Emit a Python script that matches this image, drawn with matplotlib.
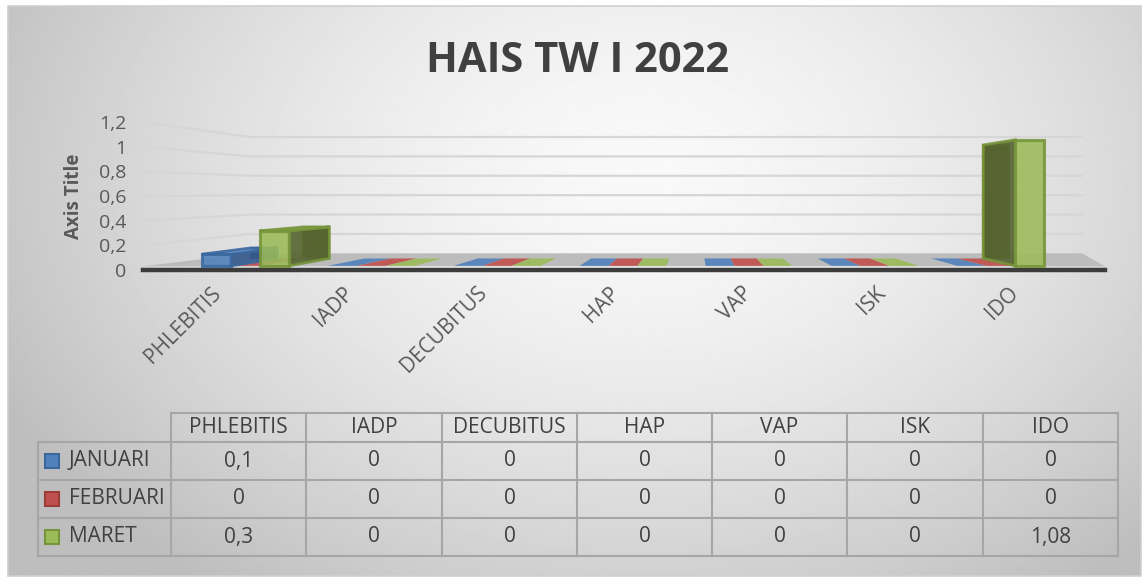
import numpy as np
import matplotlib.pyplot as plt
import matplotlib.transforms as mtransforms
from matplotlib.patches import Polygon, Rectangle

plt.rcParams['font.family'] = ['Open Sans', 'DejaVu Sans']

# data
categories = ['PHLEBITIS', 'IADP', 'DECUBITUS', 'HAP', 'VAP', 'ISK', 'IDO']
series_names = ['JANUARI', 'FEBRUARI', 'MARET']
januari = [0.1, 0, 0, 0, 0, 0, 0]
februari = [0, 0, 0, 0, 0, 0, 0]
maret = [0.3, 0, 0, 0, 0, 0, 1.08]
y_ticks = [0, 0.2, 0.4, 0.6, 0.8, 1.0, 1.2]

values = [januari, februari, maret]
face_colors = ['#4f81bd', '#c0504d', '#9bbb59']
edge_colors = ['#3b679e', '#9c3b38', '#76943a']
side_colors = ['#35588a', '#843432', '#55632f']
top_colors = ['#6f97cc', '#d06e6b', '#b0cc78']


def fmt(v):
    return ('%g' % v).replace('.', ',')


W, H = 1145, 580
fig = plt.figure(figsize=(W / 100, H / 100), dpi=100)

# background with soft radial gradient
bg = fig.add_axes([0, 0, 1, 1])
bg.set_xlim(0, W)
bg.set_ylim(H, 0)
bg.axis('off')
yy, xx = np.mgrid[0:H, 0:W]
r = np.hypot((xx - 640) / 720.0, (yy - 170) / 520.0)
shade = 0.975 - 0.23 * np.clip(r, 0, 1) ** 1.6
bg.imshow(shade, cmap='gray', vmin=0, vmax=1, extent=(8, 1141, 576, 6),
          aspect='auto', zorder=0)
bg.add_patch(Rectangle((8, 6), 1133, 570, fill=False, ec='#d0d0d0', lw=1.2, zorder=1))

# chart area: one data unit = one category horizontally, value vertically
ax = fig.add_axes([143 / W, (H - 270) / H, 962 / W, 170 / H])
ax.set_facecolor('none')
x_lo, x_hi = (143 - 220) / 133.0, (1105 - 220) / 133.0
ax.set_xlim(x_lo, x_hi)
ax.set_ylim(0, 170 / 123.3)

VP = (3.57, 0.633)          # vanishing point of the fake perspective
S_FRONT, S_BACK, S_WALL = 0.947, 0.852, 0.786
BAR_W = 0.23
x_back_left = (250 - 220) / 133.0
x_back_right = (1082 - 220) / 133.0


def proj(x, y, s):
    return (VP[0] + s * (x - VP[0]), VP[1] + s * (y - VP[1]))


# floor
fl_y = proj(x_lo, 0, S_WALL)[1]
floor = Polygon([(x_lo, 0.03), (x_hi, 0.03), (x_back_right, fl_y), (x_back_left, fl_y)],
                closed=True, fc='#bcbcbc', ec='none', zorder=1, clip_on=False)
ax.add_patch(floor)

# gridlines: side wall + back wall
for t in y_ticks[1:]:
    p = proj(x_lo, t, S_WALL)
    ax.plot([x_lo, x_back_left, x_back_right], [t, p[1], p[1]], color='#d6d6d6',
            lw=1.6, zorder=0.5, clip_on=False)

# bars
for j in range(3):
    for i, v in enumerate(values[j]):
        x0 = i + (j - 1) * BAR_W - BAR_W / 2
        x1 = x0 + BAR_W
        f = [proj(x0, 0, S_FRONT), proj(x1, 0, S_FRONT), proj(x1, v, S_FRONT), proj(x0, v, S_FRONT)]
        b = [proj(x0, 0, S_BACK), proj(x1, 0, S_BACK), proj(x1, v, S_BACK), proj(x0, v, S_BACK)]
        if v == 0:
            ax.add_patch(Polygon([f[0], f[1], b[1], b[0]], closed=True,
                                 fc=face_colors[j], ec='none', alpha=0.9, zorder=3))
            continue
        z = 4 + j
        ax.add_patch(Polygon(b, closed=True, fc=side_colors[j], ec=edge_colors[j],
                             lw=1.5, alpha=0.85, zorder=z))
        if x1 < VP[0]:
            side = [f[1], b[1], b[2], f[2]]
        else:
            side = [f[0], b[0], b[3], f[3]]
        ax.add_patch(Polygon(side, closed=True, fc=side_colors[j], ec=edge_colors[j],
                             lw=2, alpha=0.9, zorder=z + 0.1))
        if v < VP[1]:
            ax.add_patch(Polygon([f[3], f[2], b[2], b[3]], closed=True, fc=top_colors[j],
                                 ec=edge_colors[j], lw=2, alpha=0.9, zorder=z + 0.2))
        ax.add_patch(Polygon(f, closed=True, fc=face_colors[j], ec=edge_colors[j],
                             lw=2.2, alpha=0.88, zorder=z + 0.3))

for s in ['top', 'right', 'left']:
    ax.spines[s].set_visible(False)
ax.spines['bottom'].set_color('#3c3c3c')
ax.spines['bottom'].set_linewidth(3.2)
ax.spines['bottom'].set_zorder(2)

ax.set_yticks(y_ticks)
ax.set_yticklabels([fmt(t) for t in y_ticks], fontsize=14, color='#595959')
ax.set_xticks(range(len(categories)))
ax.set_xticklabels(categories, rotation=45, ha='right', va='top',
                   rotation_mode='anchor', fontsize=15, color='#595959')
ax.tick_params(axis='both', length=0)
ax.tick_params(axis='y', pad=12)
ax.tick_params(axis='x', pad=9)
# nudge rotated labels a little to the left, as in the original
shift = mtransforms.ScaledTranslation(-10 / 100, 0, fig.dpi_scale_trans)
for lbl in ax.get_xticklabels():
    lbl.set_transform(lbl.get_transform() + shift)
ax.set_ylabel('Axis Title', fontsize=13.5, fontweight='bold', color='#595959')
ax.yaxis.set_label_coords((84 - 143) / 962.0, (270 - 196) / 170.0)

fig.text(578 / W, 1 - 62 / H, 'HAIS TW I 2022', ha='center', va='center',
         fontsize=30, fontweight='bold', color='#404040')

# data table under the chart
col_edges = [171, 306, 442, 577, 712, 847, 983, 1118]
row_edges = [413, 442, 480, 518, 556]
tbl_left = 38
line_kw = dict(color='#a6a6a6', lw=1.5, zorder=2)
bg.plot([col_edges[0], col_edges[-1]], [row_edges[0], row_edges[0]], **line_kw)
for yv in row_edges[1:]:
    bg.plot([tbl_left, col_edges[-1]], [yv, yv], **line_kw)
bg.plot([tbl_left, tbl_left], [row_edges[1], row_edges[-1]], **line_kw)
for xv in col_edges:
    bg.plot([xv, xv], [row_edges[0], row_edges[-1]], **line_kw)

txt_kw = dict(fontsize=15, color='#404040', va='center', zorder=3)
for k, name in enumerate(categories):
    cx = (col_edges[k] + col_edges[k + 1]) / 2
    bg.text(cx, (row_edges[0] + row_edges[1]) / 2, name, ha='center', **txt_kw)
for j, name in enumerate(series_names):
    cy = (row_edges[j + 1] + row_edges[j + 2]) / 2
    bg.add_patch(Rectangle((45, cy - 7), 14, 14, fc=face_colors[j], ec=edge_colors[j],
                           lw=1.5, zorder=3))
    bg.text(69, cy, name, ha='left', **txt_kw)
    for k, v in enumerate(values[j]):
        cx = (col_edges[k] + col_edges[k + 1]) / 2
        bg.text(cx, cy, fmt(v), ha='center', **txt_kw)

fig.savefig('out.png', dpi=100)
